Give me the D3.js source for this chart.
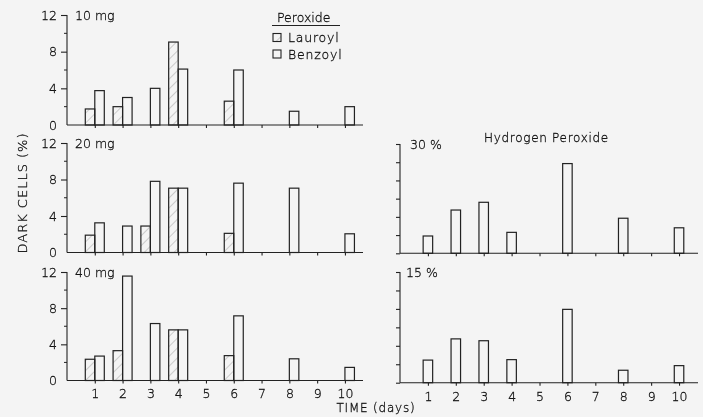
<!DOCTYPE html>
<html>
<head>
<meta charset="utf-8">
<script src="https://cdn.jsdelivr.net/npm/d3@7"></script>
<style>
  body { margin: 0; background: #f4f4f4; }
  svg { display: block; will-change: transform; }
  text { font-family: "DejaVu Sans", sans-serif; font-weight: 200; fill: #111; stroke: #111; stroke-width: 0.3; }
</style>
</head>
<body>
<div id="chart"></div>
<script>
// days 1..10, null = no bar
const days = [1, 2, 3, 4, 5, 6, 7, 8, 9, 10];
const yTicks = [0, 4, 8, 12];
const yMinor = [2, 6, 10];
const rightTicks = [0, 2, 4, 6, 8, 10, 12];

const lauroyl10 = [1.75, 2.0, null, 9.05, null, 2.6, null, null, null, null];
const benzoyl10 = [3.75, 3.0, 4.0, 6.1, null, 6.0, null, 1.5, null, 2.0];
const lauroyl20 = [1.9, null, 2.9, 7.05, null, 2.1, null, null, null, null];
const benzoyl20 = [3.25, 2.9, 7.8, 7.05, null, 7.6, null, 7.05, null, 2.05];
const lauroyl40 = [2.35, 3.3, null, 5.6, null, 2.75, null, null, null, null];
const benzoyl40 = [2.7, 11.55, 6.3, 5.6, null, 7.15, null, 2.4, null, 1.45];
const hydrogen30 = [1.9, 4.75, 5.6, 2.3, null, 9.85, null, 3.85, null, 2.8];
const hydrogen15 = [2.45, 4.75, 4.55, 2.5, null, 7.95, null, 1.35, null, 1.85];

const W = 703, H = 417;
const barW = 9.5;

const svg = d3.select("#chart").append("svg")
    .attr("width", W)
    .attr("height", H);

const defs = svg.append("defs");
const pat = defs.append("pattern")
    .attr("id", "hatch")
    .attr("patternUnits", "userSpaceOnUse")
    .attr("width", 7).attr("height", 7)
    .attr("patternTransform", "rotate(45)");
pat.append("line")
    .attr("x1", 0).attr("y1", 0).attr("x2", 0).attr("y2", 7)
    .attr("stroke", "#999").attr("stroke-width", 0.9);

const xLeft = d3.scaleLinear().domain([0, 10.65]).range([67, 363]);
const xRight = d3.scaleLinear().domain([0, 10.68]).range([400, 698]);

function drawPanel(opts) {
    const x = opts.x;
    const y = d3.scaleLinear().domain([0, 12]).range([opts.bottom, opts.top]);
    const g = svg.append("g");

    // bars
    opts.series.forEach(s => {
        const pts = days.map((d, i) => ({day: d, v: s.values[i]})).filter(p => p.v != null);
        g.selectAll(null).data(pts).join("rect")
            .attr("x", p => x(p.day) + s.offset)
            .attr("y", p => y(p.v))
            .attr("width", barW)
            .attr("height", p => y(0) - y(p.v))
            .attr("fill", s.fill)
            .attr("stroke", "#222")
            .attr("stroke-width", 1.2);
    });

    // x axis
    const xa = g.append("g")
        .attr("transform", `translate(0,${y(0)})`)
        .call(d3.axisBottom(x).tickValues(days).tickSize(3).tickPadding(6)
            .tickFormat(opts.xLabels ? d3.format("d") : ""));
    xa.select(".domain").attr("d", `M${x.range()[0]},0H${x.range()[1]}`);

    // y axis
    const ya = g.append("g")
        .attr("transform", `translate(${x.range()[0]},0)`)
        .call(d3.axisLeft(y).tickValues(opts.yLabels ? yTicks : rightTicks)
            .tickSize(opts.yLabels ? 6 : 4).tickPadding(4)
            .tickFormat(opts.yLabels ? d3.format("d") : ""));
    ya.select(".domain").attr("d", `M0,${y(12)}V${y(0)}`);
    if (opts.yLabels) {
        ya.selectAll(".tick").filter(d => d === 0).select("line").remove();
        ya.selectAll(null).data(yMinor).join("line")
            .attr("x1", -3).attr("x2", 0)
            .attr("y1", d => y(d)).attr("y2", d => y(d))
            .attr("stroke", "#222");
    }
    g.selectAll(".domain, .tick line").attr("stroke", "#222").attr("stroke-width", 1.1);
    g.selectAll(".tick text").attr("font-size", 12.5).attr("fill", "#111")
        .style("font-family", "DejaVu Sans, sans-serif").style("font-weight", 200);

    g.append("text")
        .attr("x", opts.labelX).attr("y", y(12) + 5)
        .attr("font-size", 12.5)
        .text(opts.label);
}

const leftPanels = [
    {label: "10 mg", top: 15, bottom: 125, l: lauroyl10, b: benzoyl10},
    {label: "20 mg", top: 143, bottom: 252.5, l: lauroyl20, b: benzoyl20},
    {label: "40 mg", top: 272, bottom: 380.5, l: lauroyl40, b: benzoyl40, xLabels: true}
];
leftPanels.forEach(p => drawPanel({
    x: xLeft, top: p.top, bottom: p.bottom, label: p.label, labelX: 75,
    yLabels: true, xLabels: !!p.xLabels,
    series: [
        {values: p.l, offset: -barW, fill: "url(#hatch)"},
        {values: p.b, offset: 0, fill: "none"}
    ]
}));

drawPanel({
    x: xRight, top: 144, bottom: 253.3, label: "30 %", labelX: 410,
    yLabels: false, xLabels: false,
    series: [{values: hydrogen30, offset: -barW / 2, fill: "none"}]
});
drawPanel({
    x: xRight, top: 272, bottom: 382.7, label: "15 %", labelX: 406,
    yLabels: false, xLabels: true,
    series: [{values: hydrogen15, offset: -barW / 2, fill: "none"}]
});

// titles
svg.append("text")
    .attr("x", 484).attr("y", 142)
    .attr("font-size", 12)
    .attr("letter-spacing", 0.7)
    .text("Hydrogen Peroxide");

svg.append("text")
    .attr("x", 376).attr("y", 412)
    .attr("text-anchor", "middle")
    .attr("font-size", 12)
    .attr("letter-spacing", 0.8)
    .text("TIME (days)");

svg.append("text")
    .attr("transform", "translate(27,193) rotate(-90)")
    .attr("text-anchor", "middle")
    .attr("font-size", 13)
    .attr("letter-spacing", 1)
    .text("DARK CELLS (%)");

// legend
const leg = svg.append("g");
leg.append("text").attr("x", 277).attr("y", 22).attr("font-size", 12.5).text("Peroxide");
leg.append("line").attr("x1", 272).attr("x2", 340).attr("y1", 25.5).attr("y2", 25.5)
    .attr("stroke", "#222").attr("stroke-width", 1);
const legItems = [{name: "Lauroyl", fill: "url(#hatch)"}, {name: "Benzoyl", fill: "none"}];
legItems.forEach((it, i) => {
    leg.append("rect")
        .attr("x", 273).attr("y", 33.5 + i * 16.5)
        .attr("width", 8).attr("height", 8)
        .attr("fill", it.fill).attr("stroke", "#222").attr("stroke-width", 1.1);
    leg.append("text")
        .attr("x", 288).attr("y", 42 + i * 16.5)
        .attr("font-size", 12.5).attr("letter-spacing", 0.8)
        .text(it.name);
});
</script>
</body>
</html>
